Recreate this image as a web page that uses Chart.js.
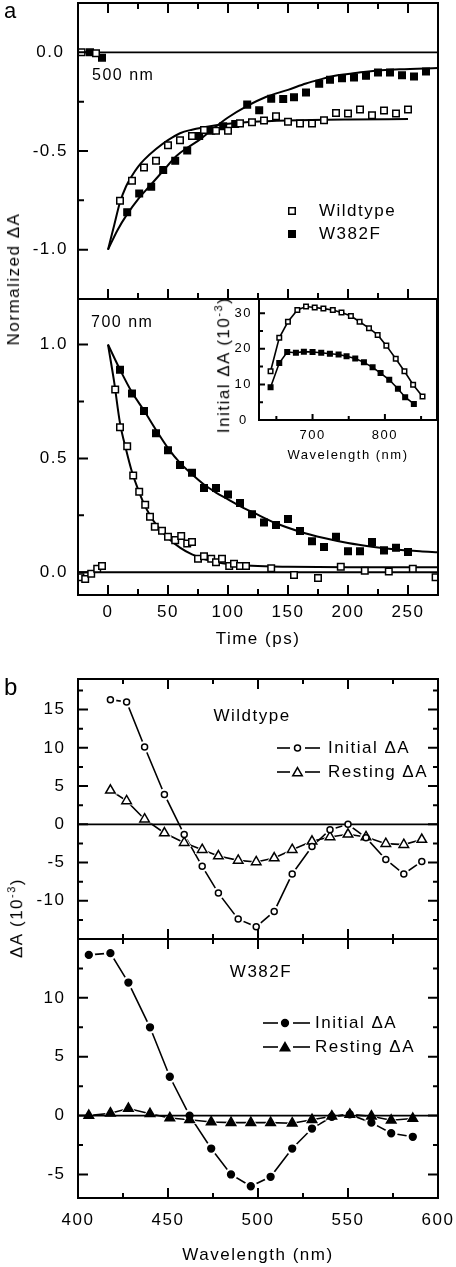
<!DOCTYPE html>
<html>
<head>
<meta charset="utf-8">
<title>Transient absorption kinetics and spectra</title>
<script src="https://cdn.jsdelivr.net/npm/chart.js@4.4.1/dist/chart.umd.min.js"></script>
<style>
  body { margin: 0; background: #fff; }
  #page { position: relative; width: 456px; height: 1267px; overflow: hidden;
          font-family: "Liberation Sans", Arial, sans-serif; letter-spacing: 1.5px; color: #000; }
  canvas { position: absolute; }
  .vtitle { position: absolute; white-space: nowrap; font-size: 17px;
            transform: translate(-50%, -50%) rotate(-90deg); }
  .vtitle sup { font-size: 11px; }
</style>
</head>
<body>
<div id="page">
  <canvas id="a500" width="456" height="299" style="left:0;top:0"></canvas>
  <canvas id="a700" width="456" height="357" style="left:0;top:299px"></canvas>
  <canvas id="inset" width="245" height="170" style="left:195px;top:299px"></canvas>
  <canvas id="bWt" width="456" height="299" style="left:0;top:640px"></canvas>
  <canvas id="bMut" width="456" height="328" style="left:0;top:939px"></canvas>
  <div class="vtitle" style="left:14px;top:279px">Normalized ΔA</div>
  <div class="vtitle" style="left:223px;top:365px">Initial ΔA (10<sup>-3</sup>)</div>
  <div class="vtitle" style="left:16px;top:918px">ΔA (10<sup>-3</sup>)</div>
</div>
<script>
// ---- panel a: kinetics at 500 nm (ps, normalized dA) ----
const t500Wt = [-22, -10, 10, 20, 30, 40, 50, 60, 70, 80, 90, 100, 110, 120, 130, 140, 150, 160, 170, 180, 190, 200, 210, 220, 230, 240, 250];
const dA500Wt = [0.0, -0.005, -0.752, -0.651, -0.584, -0.550, -0.471, -0.446, -0.424, -0.394, -0.398, -0.398, -0.36, -0.354, -0.346, -0.324, -0.352, -0.361, -0.361, -0.344, -0.307, -0.310, -0.290, -0.319, -0.295, -0.310, -0.290];
const t500Mut = [-15, -5, 16, 26, 36, 46, 56, 66, 76, 86, 96, 106, 116, 126, 136, 146, 155, 165, 176, 185, 195, 205, 215, 225, 235, 245, 255, 265];
const dA500Mut = [0.0, -0.027, -0.810, -0.715, -0.681, -0.596, -0.550, -0.497, -0.424, -0.397, -0.375, -0.363, -0.265, -0.294, -0.235, -0.237, -0.228, -0.203, -0.159, -0.139, -0.131, -0.128, -0.119, -0.102, -0.102, -0.116, -0.122, -0.097];
const fit500WtT = [0, 5, 10, 15, 20, 25, 30, 40, 50, 60, 70, 80, 90, 100, 120, 150, 200, 250];
const fit500Wt = [-1.0, -0.88, -0.76, -0.68, -0.625, -0.58, -0.545, -0.49, -0.445, -0.41, -0.392, -0.38, -0.37, -0.362, -0.352, -0.345, -0.34, -0.338];
const fit500MutT = [0, 8, 16, 25, 35, 46, 57, 67, 77, 88, 100, 115, 132, 150, 165, 177, 188, 200, 215, 243, 275];
const fit500Mut = [-1.0, -0.9, -0.82, -0.745, -0.676, -0.60, -0.525, -0.48, -0.44, -0.385, -0.33, -0.275, -0.225, -0.19, -0.158, -0.137, -0.12, -0.11, -0.098, -0.086, -0.08];

// ---- panel a: kinetics at 700 nm ----
const t700Wt = [-23, -19, -14, -9, -5, 6, 10, 16, 21, 26, 31, 35, 39, 45, 50, 56, 61, 66, 70, 75, 80, 86, 90, 95, 101, 105, 110, 115, 136, 155, 175, 194, 214, 234, 254, 273];
const dA700Wt = [-0.022, -0.03, -0.007, 0.015, 0.027, 0.803, 0.637, 0.553, 0.425, 0.353, 0.296, 0.244, 0.200, 0.182, 0.156, 0.141, 0.159, 0.126, 0.133, 0.059, 0.070, 0.059, 0.044, 0.059, 0.027, 0.037, 0.027, 0.027, 0.018, -0.012, -0.025, 0.024, 0.007, 0.003, 0.015, -0.022];
const t700Mut = [10, 20, 30, 40, 50, 60, 70, 80, 90, 100, 110, 120, 130, 140, 150, 160, 170, 180, 190, 200, 210, 220, 230, 240, 250];
const dA700Mut = [0.889, 0.785, 0.708, 0.610, 0.536, 0.471, 0.437, 0.370, 0.370, 0.341, 0.304, 0.255, 0.218, 0.207, 0.234, 0.181, 0.136, 0.111, 0.156, 0.092, 0.092, 0.133, 0.096, 0.107, 0.089];
const fit700WtT = [0, 5, 10, 15, 20, 25, 30, 35, 40, 50, 60, 70, 80, 90, 100, 120, 150, 200, 275];
const fit700Wt = [1.0, 0.84, 0.655, 0.54, 0.44, 0.365, 0.30, 0.25, 0.21, 0.15, 0.108, 0.078, 0.058, 0.045, 0.036, 0.028, 0.024, 0.022, 0.022];
const fit700MutT = [0, 10, 20, 30, 40, 50, 60, 70, 80, 90, 100, 110, 120, 140, 160, 180, 200, 220, 240, 260, 275];
const fit700Mut = [1.0, 0.89, 0.79, 0.71, 0.625, 0.545, 0.48, 0.43, 0.385, 0.35, 0.32, 0.29, 0.265, 0.215, 0.178, 0.15, 0.128, 0.112, 0.10, 0.092, 0.088];

// ---- inset: initial dA spectrum (10^-3) ----
const lamInsetWt = [642, 654, 666, 679, 691, 703, 715, 728, 740, 753, 765, 778, 790, 802, 815, 827, 839, 852];
const insetWt = [13.7, 23.1, 27.6, 30.9, 31.9, 31.6, 31.3, 30.9, 30.2, 29.2, 27.6, 25.8, 23.9, 20.9, 17.2, 13.7, 9.9, 6.6];
const lamInsetMut = [642, 654, 665, 677, 688, 700, 712, 724, 736, 747, 759, 771, 783, 794, 806, 818, 828, 840];
const insetMut = [9.2, 16.0, 19.1, 18.9, 19.2, 19.1, 18.9, 18.6, 18.4, 17.9, 17.3, 16.2, 14.8, 13.2, 11.3, 8.8, 6.4, 4.5];

// ---- panel b: spectra (10^-3) ----
const lamWt = [418, 427, 437, 448, 459, 469, 478, 489, 499, 509, 519, 530, 540, 550, 560, 571, 581, 591];
const initWt = [16.3, 16.0, 10.1, 3.9, -1.35, -5.5, -9.0, -12.4, -13.4, -11.4, -6.5, -2.9, -0.7, 0.0, -1.75, -4.6, -6.5, -4.85];
const restWt = [4.45, 3.06, 0.66, -1.14, -2.4, -3.32, -4.15, -4.72, -4.93, -4.41, -3.32, -2.23, -1.66, -1.31, -1.66, -2.53, -2.66, -2.0];
const lamMut = [406, 418, 428, 440, 451, 462, 474, 485, 496, 507, 519, 530, 541, 551, 563, 574, 586];
const initMut = [13.65, 13.8, 11.3, 7.5, 3.3, 0.0, -2.8, -5.0, -6.0, -5.2, -2.8, -1.1, -0.1, 0.1, -0.6, -1.5, -1.8];
const restMut = [0.0, 0.2, 0.6, 0.15, -0.2, -0.35, -0.55, -0.6, -0.6, -0.6, -0.65, -0.35, -0.05, 0.1, -0.05, -0.4, -0.25];

// tick labels and reference lines
const ticksTime = [0, 50, 100, 150, 200, 250];
const ticks500 = [-1.0, -0.5, 0.0];
const ticks700 = [0.0, 0.5, 1.0];
const ticksInsetX = [700, 800];
const ticksInsetY = [0, 10, 20, 30];
const ticksWl = [400, 450, 500, 550, 600];
const ticksBWt = [-10, -5, 0, 5, 10, 15];
const ticksBMut = [-5, 0, 5, 10];
const zeroTime = [-25, 275];
const zeroWl = [400, 600];
const zeroVals = [0, 0];

Chart.defaults.font.family = '"Liberation Sans", Arial, sans-serif';
Chart.defaults.color = '#000';

const pts = (xs, ys) => xs.map((x, i) => ({ x, y: ys[i] }));

function markers(xs, ys, style, r, fill, extra) {
    return Object.assign({
        data: pts(xs, ys), showLine: false, pointStyle: style, pointRadius: r,
        pointBackgroundColor: fill, pointBorderColor: '#000', pointBorderWidth: 1.5, order: 0
    }, extra);
}

function curve(xs, ys, w, extra) {
    return Object.assign({
        data: pts(xs, ys), showLine: true, pointRadius: 0, borderColor: '#000',
        borderWidth: w, fill: false, order: 3
    }, extra);
}

// spectra in panel b: line, white halo around each point, then the marker
function spectrum(xs, ys, style, r, fill) {
    return [
        markers(xs, ys, style, r, fill),
        markers(xs, ys, style, r + 3, '#fff', { pointBorderWidth: 0, order: 2 }),
        curve(xs, ys, 1.6)
    ];
}

function axis(min, max, labels, o) {
    return {
        type: 'linear', min, max, display: o.display !== false,
        grid: { display: false, drawTicks: false },
        border: { display: false },
        afterBuildTicks: s => { s.ticks = labels.map(v => ({ value: v })); },
        afterFit: s => {
            // the plot boxes are placed by hand, so no extra room for end labels
            s.paddingTop = s.paddingBottom = s.paddingLeft = s.paddingRight = 0;
            if (o.size == null) return;
            if (s.isHorizontal()) s.height = o.size; else s.width = o.size;
        },
        ticks: {
            padding: o.pad || 0, font: { size: o.fs || 17 }, crossAlign: o.cross || 'near',
            autoSkip: false, maxRotation: 0, callback: o.fmt || (v => String(v))
        },
        title: o.title
            ? { display: true, text: o.title, font: { size: o.fs || 17 }, padding: { top: 0, bottom: o.tpad } }
            : { display: false }
    };
}

// box round the plot area with inward ticks
const frame = {
    id: 'frame',
    beforeDatasetsDraw(chart, args, o) {
        if (!o.fill) return;
        const a = chart.chartArea;
        chart.ctx.save();
        chart.ctx.fillStyle = '#fff';
        chart.ctx.fillRect(a.left, a.top, a.right - a.left, a.bottom - a.top);
        chart.ctx.restore();
    },
    afterDatasetsDraw(chart, args, o) {
        const { ctx, chartArea: a } = chart;
        const xs = chart.scales.x, ys = chart.scales.y;
        const major = o.major || 10, minor = o.minor || 6;
        const each = (scale, step, big, fn) => {
            for (let v = Math.ceil(scale.min / step - 1e-9) * step; v <= scale.max + 1e-9; v += step) {
                const isBig = Math.abs(v / big - Math.round(v / big)) < 1e-6;
                fn(scale.getPixelForValue(v), isBig ? major : minor);
            }
        };
        ctx.save();
        ctx.strokeStyle = '#000';
        ctx.lineWidth = 2;
        ctx.strokeRect(a.left, a.top, a.right - a.left, a.bottom - a.top);
        ctx.beginPath();
        each(xs, o.xMinor, o.xMajor, (p, len) => {
            if (o.top) { ctx.moveTo(p, a.top); ctx.lineTo(p, a.top + len); }
            if (o.bottom) { ctx.moveTo(p, a.bottom); ctx.lineTo(p, a.bottom - len); }
        });
        each(ys, o.yMinor, o.yMajor, (p, len) => {
            if (o.left) { ctx.moveTo(a.left, p); ctx.lineTo(a.left + len, p); }
            if (o.right) { ctx.moveTo(a.right, p); ctx.lineTo(a.right - len, p); }
        });
        ctx.stroke();
        ctx.restore();
    }
};

// panel letters, labels and hand-made legends (page coordinates)
const notes = {
    id: 'notes',
    beforeDraw(chart) { chart.ctx.letterSpacing = '1.5px'; },
    afterDraw(chart, args, o) {
        const ctx = chart.ctx;
        const ox = o.left || 0, oy = o.top || 0;
        ctx.save();
        ctx.fillStyle = '#000';
        ctx.strokeStyle = '#000';
        ctx.letterSpacing = '1.5px';
        (o.items || []).forEach(it => {
            const x = it.x - ox, y = it.y - oy;
            if (it.text) {
                ctx.font = (it.size || 17) + 'px "Liberation Sans", Arial, sans-serif';
                ctx.textAlign = it.align || 'left';
                ctx.textBaseline = 'middle';
                ctx.fillText(it.text, x, y);
            } else if (it.seg) {
                ctx.lineWidth = 1.6;
                ctx.beginPath();
                ctx.moveTo(it.seg[0] - ox, y);
                ctx.lineTo(it.seg[1] - ox, y);
                ctx.stroke();
            } else if (it.mark) {
                ctx.lineWidth = 1.5;
                ctx.fillStyle = it.fill;
                ctx.beginPath();
                const r = it.r;
                if (it.mark === 'rect') {
                    const h = r * Math.SQRT1_2;
                    ctx.rect(x - h, y - h, 2 * h, 2 * h);
                } else if (it.mark === 'circle') {
                    ctx.arc(x, y, r, 0, Math.PI * 2);
                } else {
                    ctx.moveTo(x, y - r);
                    ctx.lineTo(x + r * Math.sin(Math.PI / 3), y + r / 2);
                    ctx.lineTo(x - r * Math.sin(Math.PI / 3), y + r / 2);
                    ctx.closePath();
                }
                ctx.fill();
                ctx.stroke();
                ctx.fillStyle = '#000';
            }
        });
        ctx.restore();
    }
};

function makeChart(id, datasets, scales, pad, frameOpts, noteOpts) {
    return new Chart(document.getElementById(id), {
        type: 'scatter',
        data: { datasets },
        options: {
            responsive: false, animation: false, events: [],
            layout: { padding: pad, autoPadding: false },
            elements: { line: { tension: 0 } },
            plugins: { legend: { display: false }, tooltip: { enabled: false }, frame: frameOpts, notes: noteOpts },
            scales
        },
        plugins: [frame, notes]
    });
}

const oneDec = v => v.toFixed(1);
const smooth = { cubicInterpolationMode: 'monotone' };
const aTicks = { xMinor: 25, xMajor: 50, yMinor: 0.25, yMajor: 0.5, left: true };
const bTicks = { xMinor: 25, xMajor: 50, yMinor: 2.5, yMajor: 5, left: true, right: true, top: true, bottom: true, major: 10, minor: 5 };

// a, 500 nm
makeChart('a500', [
    markers(t500Wt, dA500Wt, 'rect', 4.6, '#fff'),
    markers(t500Mut, dA500Mut, 'rect', 4.6, '#000'),
    curve(zeroTime, zeroVals, 1.8, { order: 2 }),
    curve(fit500WtT, fit500Wt, 2, smooth),
    curve(fit500MutT, fit500Mut, 2, smooth)
], {
    x: axis(-25, 275, [], { display: false }),
    y: axis(-1.25, 0.25, ticks500, { size: 78, pad: 10, cross: 'center', fmt: oneDec })
}, { top: 3, right: 18 }, Object.assign({ top: true, bottom: true }, aTicks), {
    items: [
        { text: 'a', x: 4, y: 12, size: 22 },
        { text: '500 nm', x: 92, y: 76, size: 16 },
        { mark: 'rect', x: 292, y: 211, r: 4.6, fill: '#fff' },
        { text: 'Wildtype', x: 319, y: 211, size: 17 },
        { mark: 'rect', x: 292, y: 234, r: 4.6, fill: '#000' },
        { text: 'W382F', x: 319, y: 234, size: 17 }
    ]
});

// a, 700 nm
makeChart('a700', [
    markers(t700Wt, dA700Wt, 'rect', 4.6, '#fff'),
    markers(t700Mut, dA700Mut, 'rect', 4.6, '#000'),
    curve(zeroTime, zeroVals, 1.8, { order: 2 }),
    curve(fit700WtT, fit700Wt, 2, smooth),
    curve(fit700MutT, fit700Mut, 2, smooth)
], {
    x: axis(-25, 275, ticksTime, { size: 61, pad: 7, title: 'Time (ps)', tpad: 6 }),
    y: axis(-0.1, 1.2, ticks700, { size: 78, pad: 10, cross: 'center', fmt: oneDec })
}, { right: 18 }, Object.assign({ bottom: true }, aTicks), {
    top: 299,
    items: [{ text: '700 nm', x: 91, y: 323, size: 16 }]
});

// inset: initial amplitude vs wavelength
makeChart('inset', [
    markers(lamInsetWt, insetWt, 'rect', 3.2, '#fff'),
    markers(lamInsetMut, insetMut, 'rect', 3.2, '#000'),
    curve(lamInsetWt, insetWt, 1.6),
    curve(lamInsetMut, insetMut, 1.6)
], {
    x: axis(626, 872, ticksInsetX, { size: 49, pad: 8, fs: 13, title: 'Wavelength (nm)', tpad: 6 }),
    y: axis(0, 34, ticksInsetY, { size: 64, pad: 7, fs: 13, cross: 'center' })
}, { right: 3 }, {
    xMinor: 50, xMajor: 100, yMinor: 5, yMajor: 10, left: true, bottom: true, fill: true, major: 6, minor: 4
}, {});

// b, wildtype spectra
makeChart('bWt', [
    ...spectrum(lamWt, initWt, 'circle', 3, '#fff'),
    ...spectrum(lamWt, restWt, 'triangle', 5.5, '#fff'),
    curve(zeroWl, zeroVals, 1.8, { order: 1 })
], {
    x: axis(400, 600, [], { display: false }),
    y: axis(-15, 19, ticksBWt, { size: 78, pad: 12.5 })
}, { top: 39, right: 18 }, bTicks, {
    top: 640,
    items: [
        { text: 'b', x: 4, y: 688, size: 24 },
        { text: 'Wildtype', x: 252, y: 716, align: 'center', size: 17 },
        { seg: [277, 290], y: 748 }, { seg: [305, 320], y: 748 },
        { mark: 'circle', x: 297.5, y: 748, r: 3, fill: '#fff' },
        { text: 'Initial ΔA', x: 328, y: 748, size: 17 },
        { seg: [277, 290], y: 772 }, { seg: [305, 320], y: 772 },
        { mark: 'triangle', x: 297.5, y: 773, r: 5.5, fill: '#fff' },
        { text: 'Resting ΔA', x: 328, y: 772, size: 17 }
    ]
});

// b, W382F spectra
makeChart('bMut', [
    ...spectrum(lamMut, initMut, 'circle', 3.4, '#000'),
    ...spectrum(lamMut, restMut, 'triangle', 5.5, '#000'),
    curve(zeroWl, zeroVals, 1.8, { order: 1 })
], {
    x: axis(400, 600, ticksWl, { size: 69, pad: 12, title: 'Wavelength (nm)', tpad: 1 }),
    y: axis(-7, 15, ticksBMut, { size: 78, pad: 12.5 })
}, { right: 18 }, bTicks, {
    top: 939,
    items: [
        { text: 'W382F', x: 261, y: 972, align: 'center', size: 17 },
        { seg: [263, 278], y: 1023 }, { seg: [293, 310], y: 1023 },
        { mark: 'circle', x: 285, y: 1023, r: 3.4, fill: '#000' },
        { text: 'Initial ΔA', x: 315, y: 1023, size: 17 },
        { seg: [263, 278], y: 1047 }, { seg: [293, 310], y: 1047 },
        { mark: 'triangle', x: 285, y: 1048, r: 5.5, fill: '#000' },
        { text: 'Resting ΔA', x: 315, y: 1047, size: 17 }
    ]
});
</script>
</body>
</html>
